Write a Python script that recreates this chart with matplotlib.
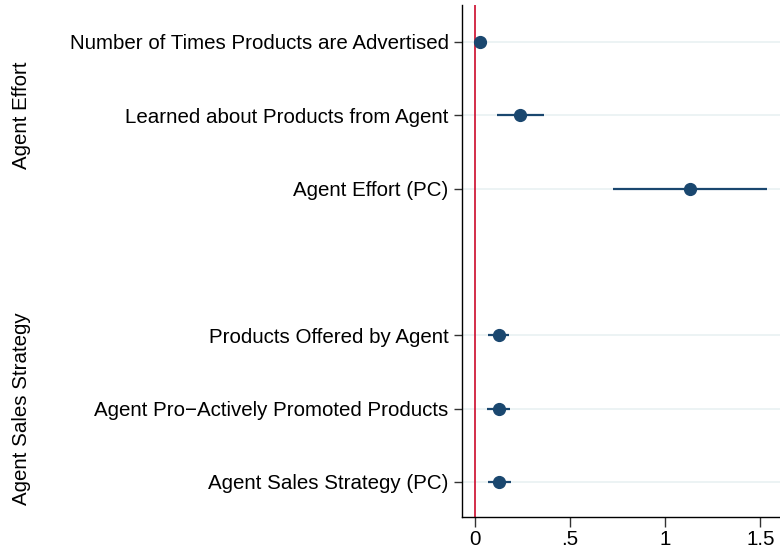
import matplotlib
matplotlib.use("Agg")
import matplotlib.pyplot as plt

labels = [
    "Number of Times Products are Advertised",
    "Learned about Products from Agent",
    "Agent Effort (PC)",
    "Products Offered by Agent",
    "Agent Pro\u2212Actively Promoted Products",
    "Agent Sales Strategy (PC)",
]
positions = [1, 2, 3, 5, 6, 7]
coef = [0.027, 0.240, 1.131, 0.129, 0.127, 0.130]
ci_low = [0.015, 0.117, 0.727, 0.072, 0.066, 0.072]
ci_high = [0.039, 0.366, 1.537, 0.183, 0.188, 0.190]
groups = ["Agent Effort", "Agent Sales Strategy"]
group_pos = [2, 6]
xticks = [0, 0.5, 1, 1.5]
xticklabels = ["0", ".5", "1", "1.5"]

plt.rcParams['font.family'] = ['Liberation Sans', 'DejaVu Sans']

fig = plt.figure(figsize=(7.8, 5.52), dpi=100)
ax = fig.add_axes([0.592, 0.0634, 0.408, 0.9276])

navy = "#1a476f"
for p in positions:
    ax.axhline(p, color="#eaf2f3", lw=1.3, zorder=0)
ax.axvline(0, color="#d01c3c", lw=1.3, zorder=1)

ax.hlines(positions, ci_low, ci_high, color=navy, lw=1.6, zorder=2)
ax.plot(coef, positions, "o", color=navy, markersize=8.5, zorder=3)

ax.set_xlim(-0.067, 1.603)
ax.set_ylim(7.48, 0.495)
ax.set_yticks(positions)
ax.set_yticklabels(labels, fontsize=14.8)
ax.set_xticks(xticks)
ax.set_xticklabels(xticklabels, fontsize=14.8)

for s in ["top", "right"]:
    ax.spines[s].set_visible(False)
for s in ["left", "bottom"]:
    ax.spines[s].set_linewidth(1.0)
    ax.spines[s].set_color("black")
ax.tick_params(axis="y", length=6, width=1, color="#333333", pad=3.5)
ax.tick_params(axis="x", length=7, width=1, color="#333333", pad=2.5)

for g, gp in zip(groups, group_pos):
    y_fig = ax.transData.transform((0, gp))[1]
    fig.text(22 / 780, y_fig / 552, g, rotation=90, ha="center", va="center",
             fontsize=14.8, transform=fig.transFigure)

fig.savefig("out.png", dpi=100)
